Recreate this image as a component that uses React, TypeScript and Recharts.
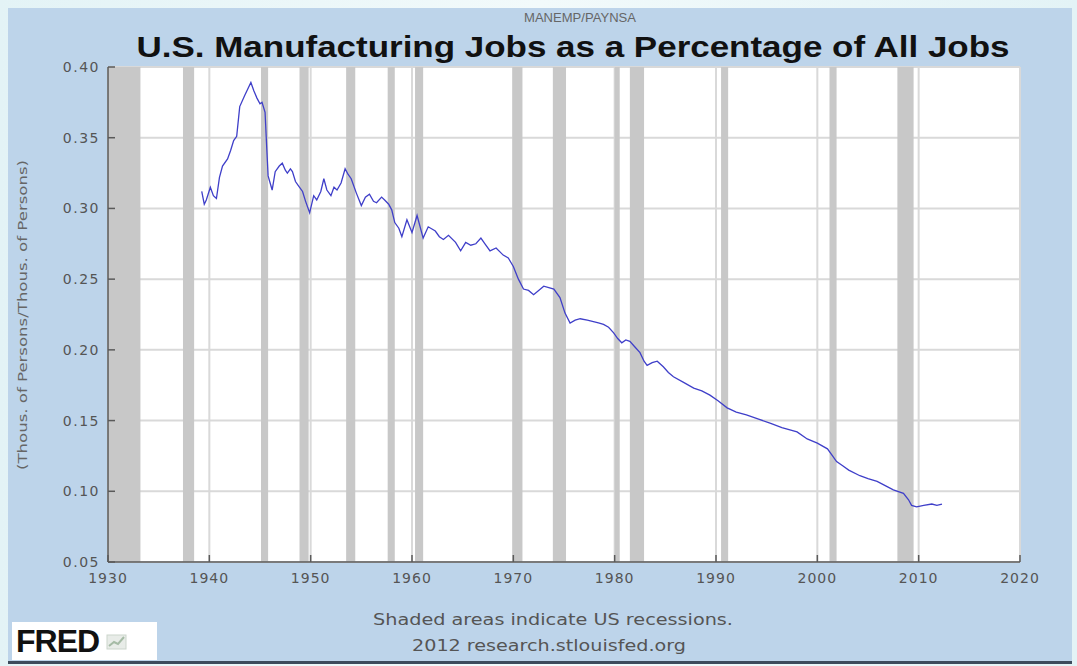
import React from 'react';
import { LineChart, Line, XAxis, YAxis, CartesianGrid, ReferenceArea } from 'recharts';

// MANEMP / PAYNSA
const years = [
  1939.25, 1939.5, 1939.7, 1940.1, 1940.4, 1940.7, 1941.0, 1941.3, 1941.8, 1942.1,
  1942.4, 1942.7, 1943.0, 1943.5, 1944.1, 1944.4, 1944.7, 1945.0, 1945.2, 1945.5,
  1945.65, 1945.8, 1946.0, 1946.2, 1946.5, 1946.9, 1947.2, 1947.5, 1947.7, 1948.0,
  1948.2, 1948.5, 1948.8, 1949.2, 1949.5, 1949.9, 1950.3, 1950.6, 1951.0, 1951.3,
  1951.6, 1952.0, 1952.3, 1952.6, 1953.0, 1953.4, 1953.7, 1954.0, 1954.5, 1955.0,
  1955.4, 1955.8, 1956.2, 1956.5, 1957.0, 1957.3, 1957.7, 1958.0, 1958.3, 1958.7,
  1959.0, 1959.5, 1960.0, 1960.5, 1961.1, 1961.6, 1962.3, 1962.7, 1963.1, 1963.6,
  1964.3, 1964.8, 1965.3, 1965.8, 1966.3, 1966.8, 1967.2, 1967.7, 1968.3, 1969.0,
  1969.5, 1970.0, 1970.5, 1971.0, 1971.5, 1972.0, 1972.5, 1973.0, 1973.5, 1974.0,
  1974.6, 1975.1, 1975.6, 1976.1, 1976.6, 1977.3, 1977.9, 1978.4, 1978.9, 1979.4,
  1979.9, 1980.3, 1980.7, 1981.1, 1981.5, 1982.0, 1982.5, 1982.9, 1983.2, 1983.7,
  1984.2, 1984.8, 1985.3, 1985.8, 1986.8, 1987.8, 1988.6, 1989.4, 1990.2, 1991.1,
  1992.0, 1993.0, 1994.2, 1995.4, 1996.5, 1998.0, 1999.0, 2000.0, 2001.0, 2001.5,
  2001.9, 2002.5, 2003.1, 2004.2, 2005.0, 2005.9, 2006.7, 2007.5, 2008.5, 2009.0,
  2009.3, 2009.8, 2010.5, 2011.3, 2011.8, 2012.3,
];

const ratio = [
  0.312, 0.303, 0.306, 0.315, 0.309, 0.307, 0.322, 0.330, 0.335, 0.341,
  0.348, 0.351, 0.372, 0.380, 0.389, 0.383, 0.378, 0.374, 0.375, 0.368,
  0.345, 0.323, 0.318, 0.313, 0.326, 0.330, 0.332, 0.327, 0.325, 0.328,
  0.326, 0.319, 0.316, 0.312, 0.305, 0.297, 0.309, 0.306, 0.312, 0.321,
  0.313, 0.309, 0.315, 0.313, 0.318, 0.328, 0.324, 0.321, 0.311, 0.302,
  0.308, 0.310, 0.305, 0.304, 0.308, 0.306, 0.303, 0.299, 0.290, 0.286,
  0.280, 0.292, 0.283, 0.295, 0.279, 0.287, 0.284, 0.280, 0.278, 0.281,
  0.276, 0.270, 0.276, 0.274, 0.275, 0.279, 0.275, 0.270, 0.272, 0.267,
  0.265, 0.259, 0.250, 0.243, 0.242, 0.239, 0.242, 0.245, 0.244, 0.243,
  0.237, 0.226, 0.219, 0.221, 0.222, 0.221, 0.220, 0.219, 0.218, 0.216,
  0.212, 0.208, 0.205, 0.207, 0.206, 0.202, 0.198, 0.192, 0.189, 0.191,
  0.192, 0.188, 0.184, 0.181, 0.177, 0.173, 0.171, 0.168, 0.164, 0.159,
  0.156, 0.154, 0.151, 0.148, 0.145, 0.142, 0.137, 0.134, 0.130, 0.125,
  0.121, 0.118, 0.115, 0.111, 0.109, 0.107, 0.104, 0.101, 0.0985, 0.094,
  0.090, 0.089, 0.090, 0.091, 0.090, 0.091,
];

// NBER recessions (start, end) as fractional years
const recessionStarts = [1929.6, 1937.4, 1945.1, 1948.9, 1953.5, 1957.6, 1960.3, 1969.9, 1973.9, 1980.0, 1981.5, 1990.5, 2001.2, 2007.9];
const recessionEnds = [1933.2, 1938.5, 1945.8, 1949.8, 1954.4, 1958.3, 1961.1, 1970.9, 1975.2, 1980.5, 1982.9, 1991.2, 2001.9, 2009.5];

const xTicks = [1930, 1940, 1950, 1960, 1970, 1980, 1990, 2000, 2010, 2020];
const yTicks = [0.05, 0.1, 0.15, 0.2, 0.25, 0.3, 0.35, 0.4];

const data = years.map((year, i) => ({ year, value: ratio[i] }));

const TICK_FONT = '"DejaVu Sans", sans-serif';
const AXIS_COLOR = '#5a5a5a';

const YTick = (props: any) => {
  const { x, y, payload } = props;
  return (
    <g>
      <line x1={x + 8} x2={x + 15} y1={y} y2={y} stroke={AXIS_COLOR} strokeWidth={1.5} />
      <text x={x} y={y} dy={5} textAnchor="end" fill="#555" fontFamily={TICK_FONT} fontSize={14} letterSpacing={1.5}>
        {payload.value.toFixed(2)}
      </text>
    </g>
  );
};

const XTick = (props: any) => {
  const { x, y, payload } = props;
  return (
    <g>
      <line x1={x} x2={x} y1={y - 8} y2={y - 15} stroke={AXIS_COLOR} strokeWidth={1.5} />
      <text x={x} y={y} dy={13} textAnchor="middle" fill="#555" fontFamily={TICK_FONT} fontSize={14} letterSpacing={1}>
        {payload.value}
      </text>
    </g>
  );
};

const FredIcon = () => (
  <svg width={24} height={20} viewBox="0 0 24 20">
    <rect x={2} y={4} width={19} height={14} fill="#e8ece8" stroke="#ccd5cc" />
    <polyline points="4,15 9,11 13,13 19,6" fill="none" stroke="#a5bba5" strokeWidth={2} />
  </svg>
);

export default function App() {
  return (
    <div
      style={{
        position: 'absolute',
        left: 0,
        top: 0,
        width: 1077,
        height: 666,
        overflow: 'hidden',
        background: 'linear-gradient(90deg, #e3f3f6 0%, #f2fafb 50%, #e3f3f6 100%)',
      }}
    >
      <div
        style={{
          position: 'absolute',
          left: 8,
          top: 8,
          width: 1064,
          height: 653,
          background: '#bdd4ea',
          borderBottom: '3px solid #3d4b5c',
        }}
      />
      <div style={{ position: 'absolute', left: 0, top: 0 }}>
        <LineChart width={1077} height={666} data={data} margin={{ top: 67, right: 57, bottom: 74, left: 48 }}>
          <CartesianGrid
            fill="#ffffff"
            fillOpacity={1}
            stroke="#d9d9d9"
            strokeWidth={2}
            horizontalValues={yTicks}
            verticalValues={xTicks}
          />
          {recessionStarts.map((s, i) => (
            <ReferenceArea
              key={`rec-${i}`}
              x1={s}
              x2={recessionEnds[i]}
              fill="#c8c8c8"
              fillOpacity={1}
              stroke="none"
              ifOverflow="hidden"
            />
          ))}
          <XAxis
            dataKey="year"
            type="number"
            domain={[1930, 2020]}
            ticks={xTicks}
            allowDataOverflow
            height={30}
            tickSize={0}
            tickMargin={8}
            tick={<XTick />}
            axisLine={{ stroke: AXIS_COLOR, strokeWidth: 1.5 }}
          />
          <YAxis
            type="number"
            domain={[0.05, 0.4]}
            ticks={yTicks}
            allowDataOverflow
            width={60}
            tickSize={0}
            tickMargin={8}
            tick={<YTick />}
            axisLine={{ stroke: AXIS_COLOR, strokeWidth: 1.5 }}
          />
          <Line
            type="linear"
            dataKey="value"
            stroke="#3f3fc9"
            strokeWidth={1.3}
            dot={false}
            isAnimationActive={false}
          />
        </LineChart>
      </div>
      <svg
        width={1077}
        height={666}
        style={{ position: 'absolute', left: 0, top: 0, pointerEvents: 'none' }}
      >
        <text x={580} y={22} textAnchor="middle" fill="#666" fontFamily='"Liberation Sans Narrow", "Liberation Sans", sans-serif' fontSize={12} textLength={112} lengthAdjust="spacingAndGlyphs">
          MANEMP/PAYNSA
        </text>
        <text x={573} y={57} textAnchor="middle" fill="#111" fontFamily='"Liberation Sans", Arial, sans-serif' fontWeight="bold" fontSize={29} textLength={873} lengthAdjust="spacingAndGlyphs">
          U.S. Manufacturing Jobs as a Percentage of All Jobs
        </text>
        <text
          x={0}
          y={0}
          transform="translate(27, 315) rotate(-90)"
          textAnchor="middle"
          fill="#666"
          fontFamily={TICK_FONT}
          fontSize={13}
          textLength={310}
          lengthAdjust="spacingAndGlyphs"
        >
          (Thous. of Persons/Thous. of Persons)
        </text>
        <text x={553} y={625} textAnchor="middle" fill="#555" fontFamily={TICK_FONT} fontSize={15} textLength={360} lengthAdjust="spacingAndGlyphs">
          Shaded areas indicate US recessions.
        </text>
        <text x={549} y={651} textAnchor="middle" fill="#555" fontFamily={TICK_FONT} fontSize={15} textLength={274} lengthAdjust="spacingAndGlyphs">
          2012 research.stlouisfed.org
        </text>
      </svg>
      <div
        style={{
          position: 'absolute',
          left: 12,
          top: 622,
          width: 145,
          height: 38,
          background: '#ffffff',
          display: 'flex',
          alignItems: 'center',
          paddingLeft: 4,
          boxSizing: 'border-box',
          gap: 6,
        }}
      >
        <span style={{ fontFamily: '"Liberation Sans", Arial, sans-serif', fontWeight: 900, fontSize: 32, color: '#111', letterSpacing: -1 }}>
          FRED
        </span>
        <FredIcon />
      </div>
    </div>
  );
}
